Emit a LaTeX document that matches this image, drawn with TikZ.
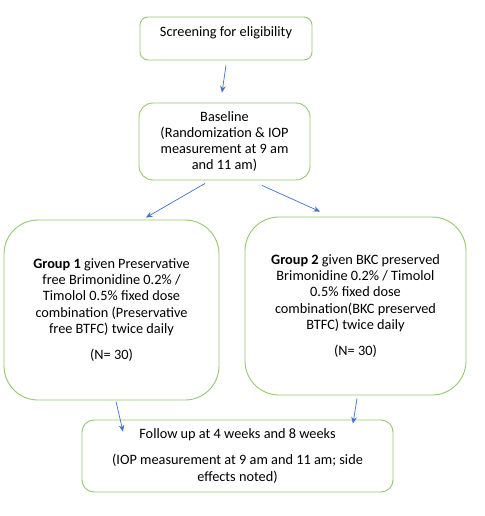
\documentclass[tikz,border=0pt]{standalone}
\usepackage{fontspec}
\setmainfont{Carlito}
\usetikzlibrary{arrows.meta,calc}
\definecolor{boxgreen}{RGB}{150,200,112}
\definecolor{arrowblue}{RGB}{68,114,196}
\begin{document}
\begin{tikzpicture}[x=1pt,y=-1pt,
  box/.style={draw=boxgreen, line width=0.9pt, align=center, inner sep=0pt,
    font=\fontsize{14.3}{16.3}\selectfont},
  conn/.style={draw=arrowblue, line width=0.7pt, -{Stealth[length=6.5pt,width=5.5pt]}}]
\fill[white] (0,0) rectangle (484,516);
\useasboundingbox (0,0) rectangle (484,516);

\node[box, rounded corners=8pt, minimum width=172pt, minimum height=43pt, text depth=13pt]
  (screen) at (226,38.5) {Screening for eligibility};

\node[box, rounded corners=14pt, minimum width=171pt, minimum height=77pt]
  (base) at (224.5,141.5) {Baseline\\(Randomization \& IOP\\measurement at 9 am\\and 11 am)};

\node[box, rounded corners=34pt, minimum width=215pt, minimum height=180pt]
  (g1) at (111.5,310) {\textbf{Group 1} given Preservative\\free Brimonidine 0.2\% /\\Timolol 0.5\% fixed dose\\combination (Preservative\\free BTFC) twice daily\\[10pt](N= 30)};

\node[box, rounded corners=34pt, minimum width=221pt, minimum height=178pt]
  (g2) at (355.5,306) {\textbf{Group 2} given BKC preserved\\Brimonidine 0.2\% / Timolol\\0.5\% fixed dose\\combination(BKC preserved\\BTFC) twice daily\\[10pt](N= 30)};

\node[box, rounded corners=12pt, minimum width=311pt, minimum height=72pt]
  (follow) at (237.5,456) {Follow up at 4 weeks and 8 weeks\\[10pt](IOP measurement at 9 am and 11 am; side\\effects noted)};

\draw[conn] ($(screen.south)+(0,5)$) -- ($(base.north)+(-2.5,-10)$);
\draw[conn] ($(base.south)+(-19.5,3)$) -- ($(g1.north)+(34.5,-2)$);
\draw[conn] ($(base.south)+(37.5,5)$) -- ($(g2.north)+(-35.5,-5)$);
\draw[conn] ($(g1.south)+(4.5,1)$) -- ($(follow.north)+(-114.5,12)$);
\draw[conn] ($(g2.south)+(1.5,3)$) -- ($(follow.north)+(115.5,4)$);
\end{tikzpicture}
\end{document}
